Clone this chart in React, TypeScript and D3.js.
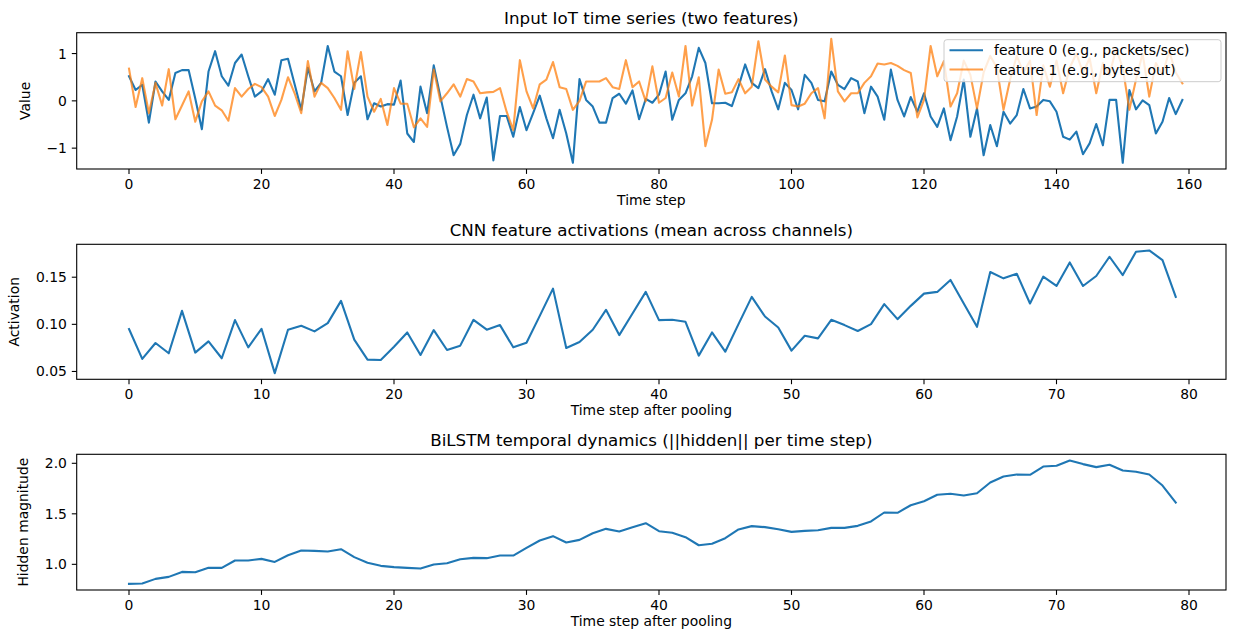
import React from 'react';
import * as d3 from 'd3';

// input series (160 time steps)
const feature0 = [
  0.52, 0.23, 0.34, -0.46, 0.41, 0.2, 0.02, 0.59, 0.65, 0.65,
  0.05, -0.6, 0.62, 1.05, 0.52, 0.32, 0.8, 0.98, 0.52, 0.09,
  0.2, 0.46, 0.13, 0.86, 0.89, 0.35, -0.19, 0.7, 0.2, 0.38,
  1.16, 0.62, 0.52, -0.3, 0.38, 0.52, -0.39, -0.05, -0.12, -0.07,
  -0.08, 0.43, -0.69, -0.87, 0.3, -0.26, 0.75, 0.09, -0.55, -1.15,
  -0.91, -0.3, 0.13, -0.37, 0.07, -1.26, -0.32, -0.32, -0.76, -0.13,
  -0.62, -0.26, 0.11, -0.37, -0.79, -0.19, -0.69, -1.31, 0.46, 0.02,
  -0.12, -0.46, -0.46, 0.06, 0.15, -0.06, 0.22, -0.39, 0.04, -0.04,
  0.13, 0.62, -0.4, 0.02, 0.16, 0.52, 1.12, 0.8, -0.05, -0.05,
  -0.04, -0.11, 0.3, 0.77, 0.38, 0.27, 0.67, 0.2, -0.18, 0.38,
  0.23, -0.18, 0.55, 0.38, 0.02, -0.01, 0.62, 0.34, 0.25, 0.48,
  0.41, -0.26, 0.3, 0.09, -0.4, 0.66, 0.02, -0.33, 0.08, -0.23,
  0.16, -0.33, -0.55, -0.16, -0.83, -0.33, 0.45, -0.76, -0.16, -1.15,
  -0.51, -0.96, -0.23, -0.48, -0.3, 0.25, -0.16, -0.12, 0.02, -0.01,
  -0.23, -0.76, -0.82, -0.65, -1.13, -0.9, -0.49, -0.94, 0.02, 0.02,
  -1.31, 0.23, -0.18, 0.01, -0.09, -0.69, -0.44, 0.06, -0.28, 0.02,
];

const feature1 = [
  0.68, -0.13, 0.48, -0.26, 0.38, -0.1, 0.67, -0.39, -0.1, 0.2,
  -0.44, -0.01, 0.2, -0.1, -0.2, -0.42, 0.27, 0.09, 0.25, 0.36,
  0.29, 0.09, -0.32, 0.02, 0.5, 0.16, -0.26, 0.84, 0.09, 0.38,
  0.27, 0.06, -0.19, 1.05, 0.25, 1.03, 0.09, -0.23, 0.04, -0.51,
  0.27, -0.06, -0.06, -0.56, -0.37, -0.55, 0.66, -0.01, 0.16, 0.35,
  0.09, 0.46, 0.41, 0.16, 0.18, 0.19, 0.27, -0.23, -0.62, 0.86,
  0.2, -0.16, 0.35, 0.45, 0.82, 0.29, 0.25, -0.19, 0.0, 0.41,
  0.41, 0.41, 0.48, 0.29, 0.25, 0.86, 0.29, 0.41, -0.01, 0.73,
  -0.04, 0.06, 0.6, 0.09, 1.16, -0.1, 0.5, -0.96, -0.4, 0.66,
  0.15, 0.18, 0.46, 0.16, 0.3, 1.26, 0.45, 0.3, 0.18, 0.96,
  -0.09, -0.12, -0.06, 0.16, 0.27, -0.37, 1.31, 0.2, -0.01, 0.16,
  0.16, 0.38, 0.52, 0.79, 0.77, 0.8, 0.74, 0.65, 0.59, -0.35,
  0.02, 1.16, 0.52, 0.84, -0.12, 0.16, 0.85, 0.55, -0.16, 0.6,
  0.95, 0.7, -0.19, 0.45, 0.95, 0.6, 0.85, -0.3, 0.75, 0.3,
  0.85, 0.16, 0.7, 1.0, 0.6, 0.9, 0.16, 0.8, 0.55, 1.1,
  0.7, -0.19, 0.45, 1.0, 0.09, 0.8, 0.55, 1.05, 0.6, 0.37,
];

// after pooling (80 steps)
const cnnActivation = [
  0.095, 0.0633, 0.0802, 0.0693, 0.1143, 0.07, 0.0819, 0.064, 0.1045, 0.0756,
  0.0953, 0.0482, 0.0943, 0.0985, 0.0925, 0.1013, 0.1249, 0.0837, 0.0626, 0.0622,
  0.0763, 0.0914, 0.0675, 0.0939, 0.0728, 0.0774, 0.1048, 0.0943, 0.0992, 0.0756,
  0.0805, 0.109, 0.1379, 0.0749, 0.0812, 0.0943, 0.1154, 0.0886, 0.1115, 0.1344,
  0.1045, 0.1048, 0.1027, 0.0668, 0.0914, 0.071, 0.1002, 0.1291, 0.1083, 0.0967,
  0.0721, 0.0879, 0.0851, 0.1048, 0.0992, 0.0929, 0.1002, 0.1214, 0.1055, 0.1196,
  0.1326, 0.1344, 0.1471, 0.1221, 0.0974, 0.1555, 0.1488, 0.1537, 0.1221, 0.1506,
  0.1407, 0.1657, 0.1407, 0.1513, 0.1717, 0.1523, 0.177, 0.1784, 0.1682, 0.1291,
];

const hiddenMagnitude = [
  0.807, 0.81, 0.856, 0.876, 0.925, 0.922, 0.965, 0.965, 1.038, 1.038,
  1.054, 1.024, 1.09, 1.137, 1.133, 1.127, 1.15, 1.071, 1.015, 0.985,
  0.972, 0.965, 0.958, 0.998, 1.011, 1.051, 1.064, 1.061, 1.087, 1.087,
  1.163, 1.236, 1.279, 1.216, 1.242, 1.308, 1.351, 1.325, 1.368, 1.407,
  1.328, 1.312, 1.269, 1.189, 1.203, 1.259, 1.345, 1.378, 1.368, 1.348,
  1.321, 1.331, 1.338, 1.361, 1.361, 1.381, 1.424, 1.513, 1.51, 1.585,
  1.625, 1.688, 1.698, 1.681, 1.704, 1.81, 1.869, 1.889, 1.886, 1.968,
  1.975, 2.028, 1.992, 1.962, 1.985, 1.929, 1.916, 1.889, 1.78, 1.612,
];

const rawTicks = [0, 20, 40, 60, 80, 100, 120, 140, 160];
const pooledTicks = [0, 10, 20, 30, 40, 50, 60, 70, 80];
const valueTicks = [-1, 0, 1];
const activationTicks = [0.05, 0.1, 0.15];
const hiddenTicks = [1.0, 1.5, 2.0];
const legendLabels = ['feature 0 (e.g., packets/sec)', 'feature 1 (e.g., bytes_out)'];

const W = 1235;
const H = 630;
const LEFT = 76.7;
const RIGHT = 1226;
// pixel spot of the first and last x tick
const X0 = 129;
const X1 = 1189;
const FONT = '"DejaVu Sans", sans-serif';
const BLUE = '#1f77b4';
const ORANGE = '#ff7f0e';

const padded = (vals) => {
  const [lo, hi] = d3.extent(vals);
  const p = (hi - lo) * 0.05;
  return [lo - p, hi + p];
};

const Panel = ({ top, bottom, series, xTicks, yTicks, yFmt, title, xLabel, yLabel, yLabelX, legend }) => {
  const x = d3.scaleLinear().domain([xTicks[0], xTicks[xTicks.length - 1]]).range([X0, X1]);
  const y = d3.scaleLinear().domain(padded(series.flatMap((s) => s.values))).range([bottom, top]);
  const line = d3.line().x((_, i) => x(i)).y((d) => y(d));
  const fmt = d3.format(yFmt);

  return (
    <g>
      {series.map((s, k) => (
        <path key={k} d={line(s.values)} fill="none" stroke={s.color} strokeOpacity={s.opacity}
          strokeWidth={2.1} strokeLinejoin="round" strokeLinecap="square" />
      ))}
      <rect x={LEFT} y={top} width={RIGHT - LEFT} height={bottom - top} fill="none" stroke="#000" strokeWidth={1.1} />
      {xTicks.map((t) => (
        <g key={t}>
          <line x1={x(t)} x2={x(t)} y1={bottom} y2={bottom + 4.9} stroke="#000" strokeWidth={1.1} />
          <text x={x(t)} y={bottom + 19.5} textAnchor="middle" fontSize={13.9}>{t}</text>
        </g>
      ))}
      {yTicks.map((t) => (
        <g key={t}>
          <line x1={LEFT - 4.9} x2={LEFT} y1={y(t)} y2={y(t)} stroke="#000" strokeWidth={1.1} />
          <text x={LEFT - 9.8} y={y(t)} dy="0.36em" textAnchor="end" fontSize={13.9}>{fmt(t)}</text>
        </g>
      ))}
      <text x={(LEFT + RIGHT) / 2} y={top - 8.3} textAnchor="middle" fontSize={16.7}>{title}</text>
      <text x={(LEFT + RIGHT) / 2} y={bottom + 36} textAnchor="middle" fontSize={13.9}>{xLabel}</text>
      <text transform={`translate(${yLabelX},${(top + bottom) / 2}) rotate(-90)`} dy="0.36em"
        textAnchor="middle" fontSize={13.9}>{yLabel}</text>
      {legend && (
        <g transform={`translate(${RIGHT - 5 - 277},${top + 7})`}>
          <rect width={277} height={42} rx={2.8} fill="#fff" fillOpacity={0.8} stroke="#cccccc" strokeWidth={1} />
          {series.map((s, k) => (
            <g key={k} transform={`translate(0,${10.5 + k * 19.3})`}>
              <line x1={5.5} x2={39} stroke={s.color} strokeOpacity={s.opacity} strokeWidth={2.1} />
              <text x={50} dy="0.36em" fontSize={13.9}>{legendLabels[k]}</text>
            </g>
          ))}
        </g>
      )}
    </g>
  );
};

export default function App() {
  return (
    <svg width={W} height={H} fontFamily={FONT}
      style={{ position: 'absolute', left: 0, top: 0, background: '#fff', display: 'block' }}>
      <Panel top={32.7} bottom={169} xTicks={rawTicks} yTicks={valueTicks} yFmt="d"
        title="Input IoT time series (two features)" xLabel="Time step" yLabel="Value" yLabelX={25}
        legend
        series={[
          { values: feature0, color: BLUE, opacity: 1 },
          { values: feature1, color: ORANGE, opacity: 0.75 },
        ]} />
      <Panel top={244.3} bottom={379.3} xTicks={pooledTicks} yTicks={activationTicks} yFmt=".2f"
        title="CNN feature activations (mean across channels)" xLabel="Time step after pooling"
        yLabel="Activation" yLabelX={14}
        series={[{ values: cnnActivation, color: BLUE, opacity: 1 }]} />
      <Panel top={454.3} bottom={590} xTicks={pooledTicks} yTicks={hiddenTicks} yFmt=".1f"
        title="BiLSTM temporal dynamics (||hidden|| per time step)" xLabel="Time step after pooling"
        yLabel="Hidden magnitude" yLabelX={23}
        series={[{ values: hiddenMagnitude, color: BLUE, opacity: 1 }]} />
    </svg>
  );
}
